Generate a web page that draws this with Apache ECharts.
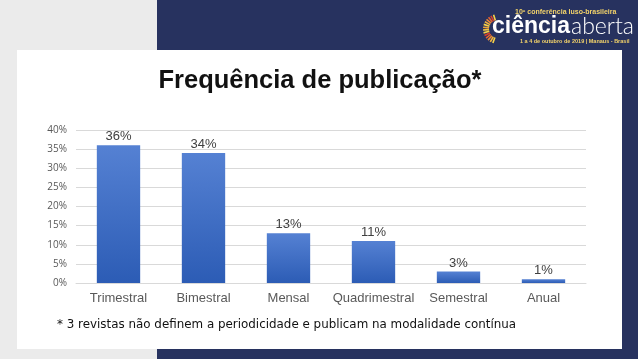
<!DOCTYPE html>
<html>
<head>
<meta charset="utf-8">
<script src="https://cdn.jsdelivr.net/npm/echarts@6/dist/echarts.min.js"></script>
<style>
html,body{margin:0;padding:0;background:#ebebeb;}
#chart{width:638px;height:359px;}
</style>
</head>
<body>
<div id="chart"></div>
<script>
var categories = ['Trimestral', 'Bimestral', 'Mensal', 'Quadrimestral', 'Semestral', 'Anual'];
var values = [36, 34, 13, 11, 3, 1];
var yTicks = [0, 5, 10, 15, 20, 25, 30, 35, 40];

var chart = echarts.init(document.getElementById('chart'));

var rays = [];
var rayColors = ['#f6d34a','#f3b33d','#ee8a35','#e7612f','#d9402b','#f6d34a','#f3c640','#eea437'];
for (var i = 0; i < 14; i++) {
  var a = (110 + i * 11) * Math.PI / 180;
  var cx = 498, cy = 29, r1 = 9, r2 = 15;
  rays.push({
    type: 'line',
    shape: {x1: cx + r1 * Math.cos(a), y1: cy + r1 * Math.sin(a), x2: cx + r2 * Math.cos(a), y2: cy + r2 * Math.sin(a)},
    style: {stroke: rayColors[i % rayColors.length], lineWidth: 1.6},
    z: 5
  });
}

var graphics = [
  {type: 'rect', shape: {x: 157, y: 0, width: 481, height: 359}, style: {fill: '#27325f'}, z: -20, silent: true},
  {type: 'rect', shape: {x: 17, y: 50, width: 605, height: 299}, style: {fill: '#ffffff'}, z: -10, silent: true},
  {type: 'text', left: 515, top: 9, style: {text: '10º conferência luso-brasileira', fill: '#f3d36a', font: 'bold 7px "Liberation Sans", Arial, sans-serif'}, z: 5},
  {type: 'text', left: 492, top: 15, style: {text: 'ciência', fill: '#ffffff', font: 'bold 23px "Liberation Sans", Arial, sans-serif'}, z: 5},
  {type: 'text', left: 571, top: 15, style: {text: 'aberta', fill: '#ffffff', font: '300 23px Lato, "Liberation Sans", sans-serif'}, z: 5},
  {type: 'text', left: 520, top: 38, style: {text: '1 a 4 de outubro de 2019 | Manaus - Brasil', fill: '#f3d36a', font: 'bold 5.5px "Liberation Sans", Arial, sans-serif'}, z: 5},
  {type: 'text', left: 57, top: 319, style: {text: '* 3 revistas não definem a periodicidade e publicam na modalidade contínua', fill: '#111111', font: '11.9px "DejaVu Sans", Verdana, sans-serif'}, z: 5}
].concat(rays);

chart.setOption({
  animation: false,
  title: {
    text: 'Frequência de publicação*',
    left: 315,
    textAlign: 'center',
    top: 63,
    textStyle: {fontFamily: '"Liberation Sans", Arial, sans-serif', fontWeight: 'bold', fontSize: 25.5, color: '#111111'}
  },
  graphic: graphics,
  grid: {left: 76, right: 52, top: 130, bottom: 76, containLabel: false},
  xAxis: {
    type: 'category',
    data: categories,
    z: 2,
    axisLine: {show: true, lineStyle: {color: '#d9d9d9', width: 1}},
    axisTick: {show: false},
    axisLabel: {color: '#595959', fontSize: 13, fontFamily: '"Liberation Sans", Arial, sans-serif', margin: 9, interval: 0}
  },
  yAxis: {
    type: 'value',
    min: yTicks[0],
    max: yTicks[yTicks.length - 1],
    interval: 5,
    z: 1,
    axisLine: {show: false},
    axisTick: {show: false},
    splitLine: {lineStyle: {color: '#d9d9d9', width: 1}},
    axisLabel: {color: '#595959', fontSize: 10, fontFamily: '"Open Sans", sans-serif', margin: 9, formatter: '{value}%'}
  },
  series: [{
    type: 'bar',
    data: values,
    barWidth: '51%',
    z: 3,
    itemStyle: {
      color: new echarts.graphic.LinearGradient(0, 0, 0, 1, [
        {offset: 0, color: '#5581d3'},
        {offset: 1, color: '#2c5cb5'}
      ])
    },
    label: {
      show: true,
      position: 'top',
      distance: 2,
      formatter: '{c}%',
      color: '#404040',
      fontSize: 13,
      fontFamily: '"Liberation Sans", Arial, sans-serif'
    }
  }]
});
</script>
</body>
</html>
